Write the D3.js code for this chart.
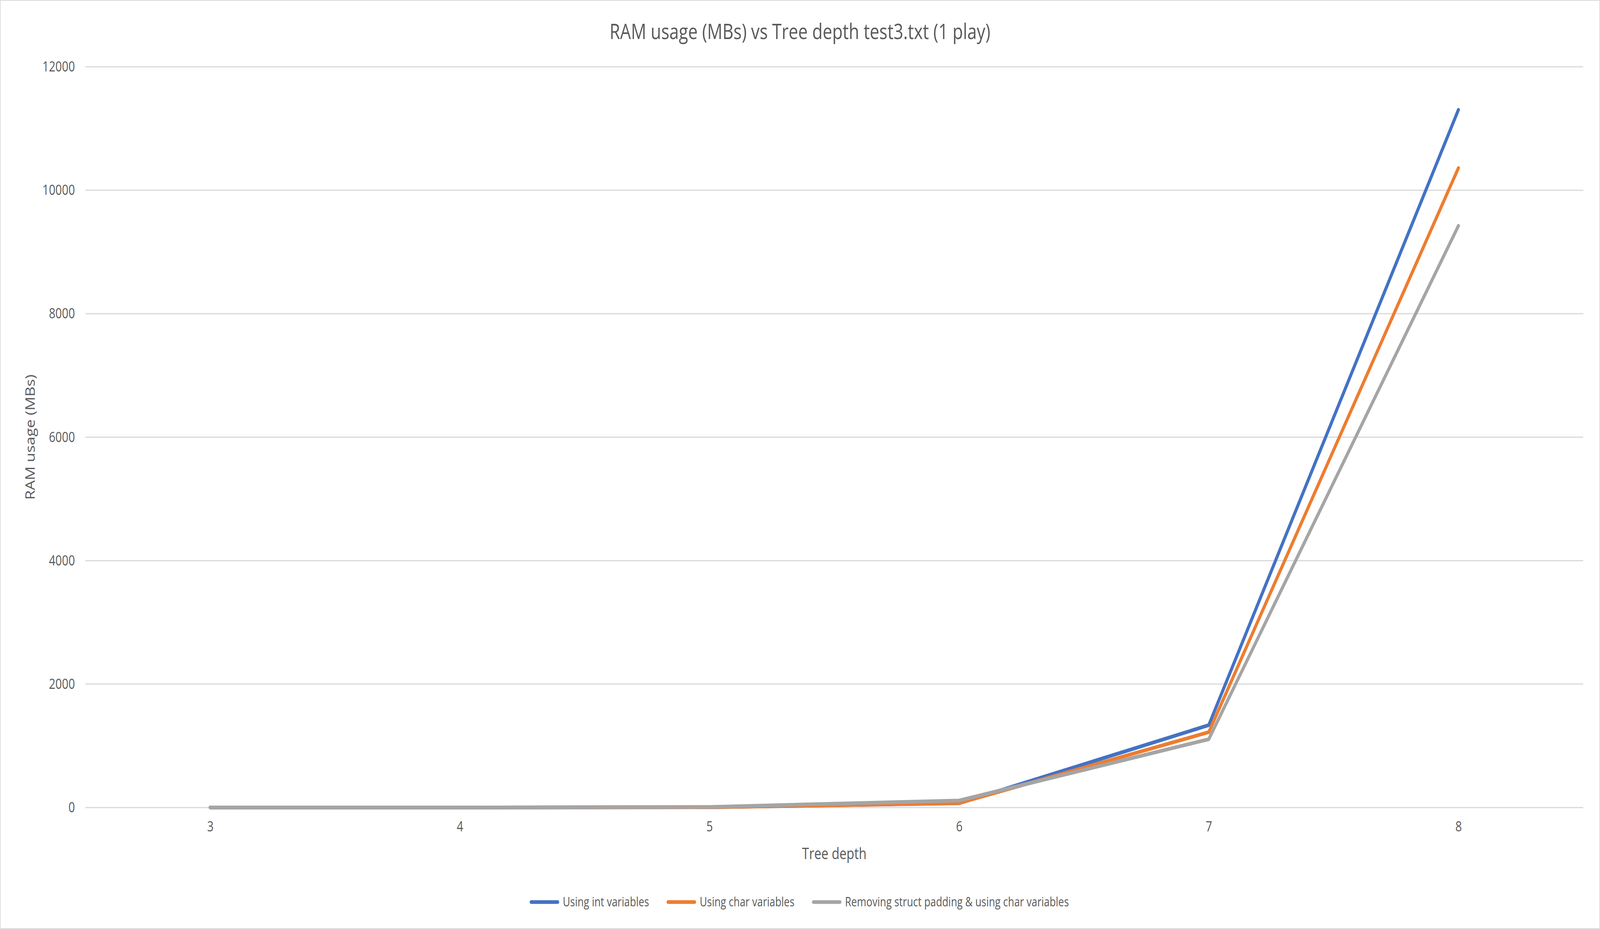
<!DOCTYPE html>
<html>
<head>
<meta charset="utf-8">
<script src="https://cdn.jsdelivr.net/npm/d3@7"></script>
<style>
  html, body { margin: 0; padding: 0; background: #fff; overflow: hidden; }
  svg { display: block; width: 100vw; height: 100vh; }
  text { font-family: "Open Sans", "Liberation Sans", sans-serif; fill: #595959; }
</style>
</head>
<body>
<div id="root"></div>
<script>
const width = 5060;
const height = 2379;

const depths = ["3", "4", "5", "6", "7", "8"];
const intVals = [0.1, 0.5, 5, 70, 1335, 11303];
const charVals = [0.1, 0.5, 5, 72, 1221, 10360];
const packedVals = [0.1, 0.5, 10, 114, 1107, 9424];
const yTicks = [0, 2000, 4000, 6000, 8000, 10000, 12000];

const series = [
  { name: "Using int variables", values: intVals, color: "#4472c4" },
  { name: "Using char variables", values: charVals, color: "#ed7d31" },
  { name: "Removing struct padding & using char variables", values: packedVals, color: "#a5a5a5" }
];

const margin = { top: 171, right: 53, bottom: 311, left: 270 };

const svg = d3.select("#root").append("svg")
  .attr("viewBox", [0, 0, width, height])
  .attr("preserveAspectRatio", "none");

svg.append("rect")
  .attr("x", 1).attr("y", 1)
  .attr("width", width - 2).attr("height", height - 2)
  .attr("fill", "#fff").attr("stroke", "#d9d9d9").attr("stroke-width", 2);

const x = d3.scalePoint()
  .domain(depths)
  .range([margin.left, width - margin.right])
  .padding(0.5);

const y = d3.scaleLinear()
  .domain([0, 12000])
  .range([height - margin.bottom, margin.top]);

// gridlines
svg.append("g")
  .selectAll("line")
  .data(yTicks)
  .join("line")
  .attr("x1", margin.left)
  .attr("x2", width - margin.right)
  .attr("y1", (d) => y(d))
  .attr("y2", (d) => y(d))
  .attr("stroke", "#d9d9d9")
  .attr("stroke-width", 3);

// y axis labels
const yAxis = svg.append("g")
  .attr("transform", `translate(${margin.left - 30},0)`)
  .call(d3.axisLeft(y).tickValues(yTicks).tickSize(0).tickFormat(d3.format("d")));
yAxis.select(".domain").remove();
yAxis.selectAll("text").attr("font-size", 36).attr("fill", "#595959")
  .style("font-family", "'Open Sans', sans-serif");

// x axis labels
const xAxis = svg.append("g")
  .attr("transform", `translate(0,${height - margin.bottom + 32})`)
  .call(d3.axisBottom(x).tickSize(0));
xAxis.select(".domain").remove();
xAxis.selectAll("text").attr("font-size", 36).attr("fill", "#595959")
  .style("font-family", "'Open Sans', sans-serif");

// lines
const line = d3.line()
  .x((d, i) => x(depths[i]))
  .y((d) => y(d));

svg.append("g")
  .selectAll("path")
  .data(series)
  .join("path")
  .attr("d", (d) => line(d.values))
  .attr("fill", "none")
  .attr("stroke", (d) => d.color)
  .attr("stroke-width", 9.5)
  .attr("stroke-linecap", "round")
  .attr("stroke-linejoin", "round");

// title
svg.append("text")
  .attr("x", width / 2)
  .attr("y", 100)
  .attr("text-anchor", "middle")
  .attr("font-size", 54)
  .text("RAM usage (MBs) vs Tree depth test3.txt (1 play)");

// axis titles
svg.append("text")
  .attr("x", (margin.left + width - margin.right) / 2)
  .attr("y", 2200)
  .attr("text-anchor", "middle")
  .attr("font-size", 40)
  .text("Tree depth");

svg.append("text")
  .attr("transform", `translate(110,${(margin.top + height - margin.bottom) / 2}) rotate(-90)`)
  .attr("text-anchor", "middle")
  .attr("font-size", 40)
  .text("RAM usage (MBs)");

// legend, laid out from measured text widths and centred
const legend = svg.append("g");
const items = legend.selectAll("g")
  .data(series)
  .join("g");

items.append("line")
  .attr("x1", 0).attr("x2", 84)
  .attr("stroke", (d) => d.color)
  .attr("stroke-width", 9.5)
  .attr("stroke-linecap", "round");

items.append("text")
  .attr("x", 100)
  .attr("dy", "0.35em")
  .attr("font-size", 32)
  .text((d) => d.name);

let offset = 0;
items.each(function () {
  const w = this.getBBox().width;
  d3.select(this).attr("transform", `translate(${offset},0)`);
  offset += w + 60;
});
offset -= 60;
legend.attr("transform", `translate(${(width - offset) / 2},2310)`);
</script>
</body>
</html>
